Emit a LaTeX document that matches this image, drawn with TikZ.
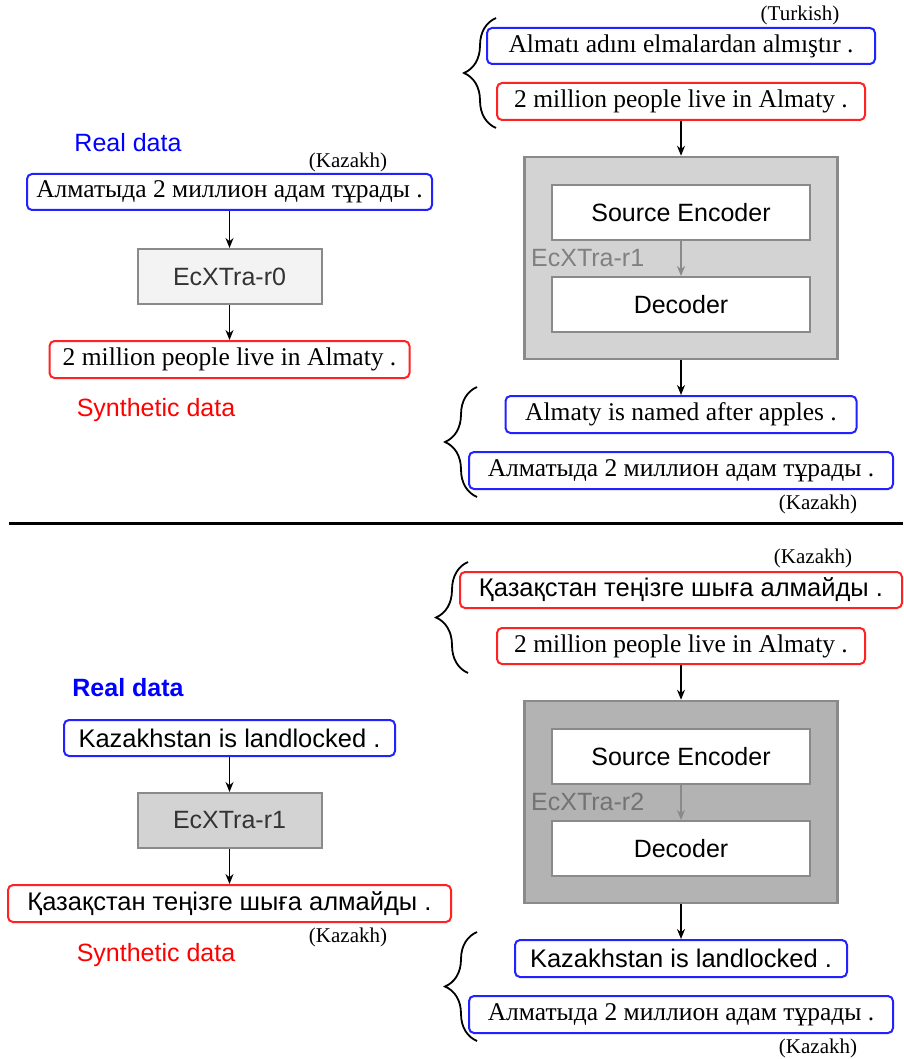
\documentclass[tikz,border=0pt]{standalone}
\usepackage{fontspec}
\setmainfont{Liberation Serif}
\setsansfont{Liberation Sans}
\usetikzlibrary{positioning}
\usetikzlibrary{arrows.meta}
\usetikzlibrary{decorations.pathreplacing}
\definecolor{boxblue}{HTML}{2222FF}
\definecolor{boxred}{HTML}{FF2222}
\definecolor{fillrz}{HTML}{F3F3F3}
\definecolor{fillra}{HTML}{D3D3D3}
\definecolor{fillrb}{HTML}{B3B3B3}
\definecolor{edgegray}{HTML}{8A8A8A}
\tikzset{
    sent/.style = {rectangle, rounded corners=5pt, line width=2pt, inner sep=0pt, minimum height=36pt, font=\fontsize{25.5}{30}\selectfont},
    sentb/.style = {sent, draw=boxblue},
    sentr/.style = {sent, draw=boxred},
    model/.style = {rectangle, line width=2pt, draw=edgegray, minimum width=184pt, minimum height=55pt, font=\sffamily\fontsize{25}{30}\selectfont, text=black!80},
    outerbox/.style = {rectangle, line width=2.5pt, draw=edgegray, minimum width=313pt, minimum height=202pt},
    innerbox/.style = {rectangle, line width=2pt, draw=edgegray, fill=white, minimum width=258pt, minimum height=55pt, font=\sffamily\fontsize{25}{30}\selectfont},
    lang/.style = {font=\fontsize{21}{24}\selectfont, inner sep=0pt},
    tag/.style = {font=\sffamily\fontsize{25}{30}\selectfont, inner sep=0pt},
    mname/.style = {font=\sffamily\fontsize{25}{30}\selectfont, inner sep=0pt, anchor=west},
    edgen/.style = {-{Stealth[length=10pt,width=8pt]}, line width=1.5pt},
    edgeg/.style = {edgen, edgegray},
    bracel/.style = {decorate, decoration={brace, amplitude=32pt, aspect=0.5}, line width=1.8pt},
}
\newcommand{\SF}{\sffamily}

\begin{document}
\begin{tikzpicture}[x=1pt,y=-1pt]
\useasboundingbox (0,0) rectangle (903,1059);
% top half, left
\node[tag, text=blue] at (128,143) (real1) {Real data};
\node[lang] at (348,162) (kz1l) {(Kazakh)};
\node[sentb, minimum width=405pt] at (229.5,192) (kz1) {Алматыда 2 миллион адам тұрады .};
\node[model, fill=fillrz] at (229.5,276.5) (r0) {EcXTra-r0};
\node[sentr, minimum width=360pt, minimum height=37pt] at (229.5,359.5) (en1) {2 million people live in Almaty .};
\node[tag, text=red] at (156,410) (syn1) {Synthetic data};
\draw[edgen] (kz1) -- (r0);
\draw[edgen] (r0) -- (en1);
% top half, right
\node[lang] at (800,15) (trl) {(Turkish)};
\node[sentb, minimum width=388pt] at (681,46) (tr) {Almatı adını elmalardan almıştır .};
\node[sentr, minimum width=368pt, minimum height=37pt] at (681,101.5) (en2) {2 million people live in Almaty .};
\node[outerbox, fill=fillra] at (681,258) (outa) {};
\node[innerbox] at (681,212.5) (enca) {Source Encoder};
\node[innerbox] at (681,304.5) (deca) {Decoder};
\node[mname, text=gray] at (531,258) (ra) {EcXTra-r1};
\node[sentb, minimum width=351pt, minimum height=37pt] at (681,414.5) (ap) {Almaty is named after apples .};
\node[sentb, minimum width=424pt, minimum height=37pt] at (681,470.5) (kz2) {Алматыда 2 миллион адам тұрады .};
\node[lang] at (818,504) (kz2l) {(Kazakh)};
\draw[edgen] (en2) -- (outa);
\draw[edgeg] (enca) -- (deca);
\draw[edgen] (outa) -- (ap);
\draw[bracel] (496,128) -- (496,18);
\draw[bracel] (477,497) -- (477,387);
% separator
\draw[line width=3pt] (9,523) -- (903,523);
% bottom half, left
\node[tag, text=blue, font=\SF\bfseries\fontsize{25}{30}\selectfont] at (128,688) (real2) {Real data};
\node[sentb, minimum width=331pt, font=\SF\fontsize{25.5}{30}\selectfont] at (229.5,738) (ll1) {Kazakhstan is landlocked .};
\node[model, fill=fillra] at (229.5,820.5) (r1) {EcXTra-r1};
\node[sentr, minimum width=443pt, minimum height=37pt, font=\SF\fontsize{25.5}{30}\selectfont] at (229.5,903.5) (kk1) {Қазақстан теңізге шыға алмайды .};
\node[lang] at (348,937) (kk1l) {(Kazakh)};
\node[tag, text=red] at (156,955) (syn2) {Synthetic data};
\draw[edgen] (ll1) -- (r1);
\draw[edgen] (r1) -- (kk1);
% bottom half, right
\node[lang] at (813,558) (kk2l) {(Kazakh)};
\node[sentr, minimum width=442pt, font=\SF\fontsize{25.5}{30}\selectfont] at (681,590) (kk2) {Қазақстан теңізге шыға алмайды .};
\node[sentr, minimum width=368pt] at (681,646) (en3) {2 million people live in Almaty .};
\node[outerbox, fill=fillrb] at (681,802) (outb) {};
\node[innerbox] at (681,756.5) (encb) {Source Encoder};
\node[innerbox] at (681,848.5) (decb) {Decoder};
\node[mname, text=black!55] at (531,802) (rb) {EcXTra-r2};
\node[sentb, minimum width=332pt, minimum height=37pt, font=\SF\fontsize{25.5}{30}\selectfont] at (681,958.5) (ll2) {Kazakhstan is landlocked .};
\node[sentb, minimum width=424pt, minimum height=37pt] at (681,1014.5) (kz3) {Алматыда 2 миллион адам тұрады .};
\node[lang] at (818,1048) (kz3l) {(Kazakh)};
\draw[edgen] (en3) -- (outb);
\draw[edgeg] (encb) -- (decb);
\draw[edgen] (outb) -- (ll2);
\draw[bracel] (468,673) -- (468,562);
\draw[bracel] (477,1041) -- (477,932);
\end{tikzpicture}
\end{document}
